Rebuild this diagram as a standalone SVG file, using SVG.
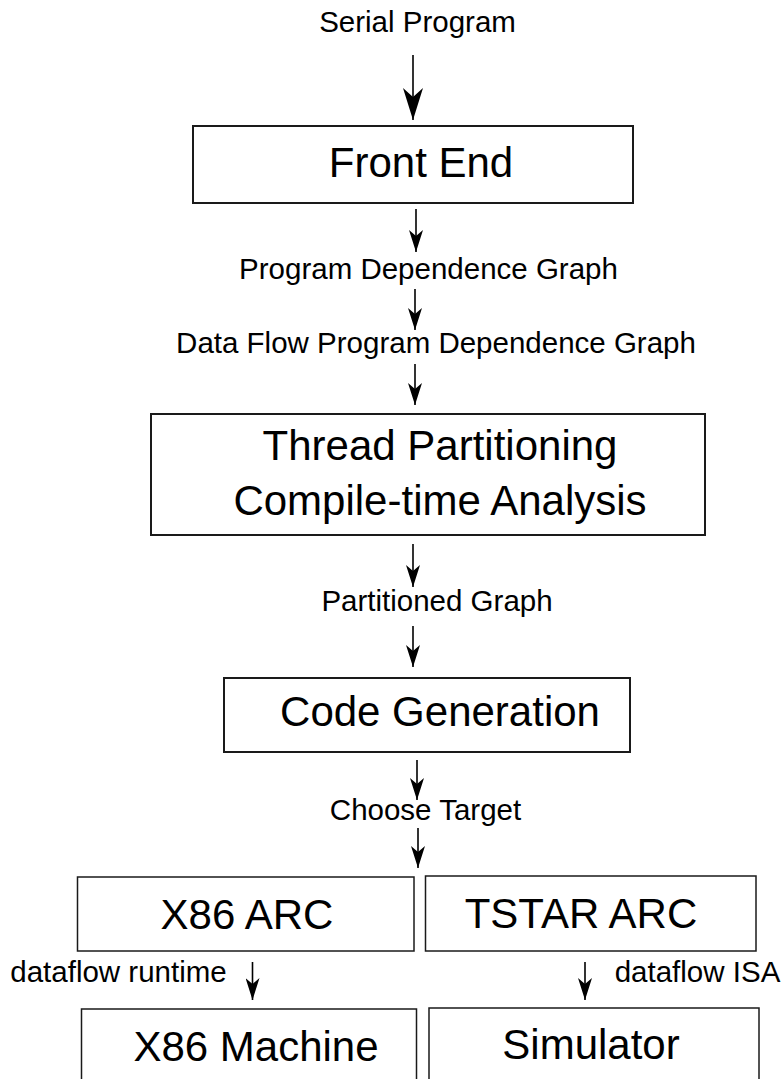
<svg xmlns="http://www.w3.org/2000/svg" width="782" height="1079" viewBox="0 0 782 1079">
<defs>
<style>
.box{fill:#fff;stroke:#1a1a1a;stroke-width:2}
.box2{fill:#fff;stroke:#1a1a1a;stroke-width:1.5}
.lbl{font-family:"Liberation Sans",Arial,sans-serif;font-size:29.5px;fill:#000;text-anchor:middle}
.big{font-family:"Liberation Sans",Arial,sans-serif;font-size:42px;fill:#000;text-anchor:middle}
.ln{stroke:#000;stroke-width:1.6;fill:none}
</style>
<marker id="ahBig" viewBox="0 0 20 32" refX="10" refY="32" markerWidth="20" markerHeight="32" markerUnits="userSpaceOnUse">
<path d="M0,0 L10,9 L20,0 L10,32 Z" fill="#000"/>
</marker>
<marker id="ah" viewBox="0 0 14 22" refX="7" refY="22" markerWidth="14" markerHeight="22" markerUnits="userSpaceOnUse">
<path d="M0,0 L7,6 L14,0 L7,22 Z" fill="#000"/>
</marker>
</defs>
<rect width="782" height="1079" fill="#fff"/>
<g id="connectors">
<line class="ln" x1="413" y1="55" x2="413" y2="120" marker-end="url(#ahBig)"/>
<line class="ln" x1="416" y1="209" x2="416" y2="252" marker-end="url(#ah)"/>
<line class="ln" x1="415" y1="289" x2="415" y2="330" marker-end="url(#ah)"/>
<line class="ln" x1="415" y1="364" x2="415" y2="405" marker-end="url(#ah)"/>
<line class="ln" x1="413" y1="544" x2="413" y2="587" marker-end="url(#ah)"/>
<line class="ln" x1="413" y1="626" x2="413" y2="667" marker-end="url(#ah)"/>
<line class="ln" x1="417" y1="760" x2="417" y2="800" marker-end="url(#ah)"/>
<line class="ln" x1="418" y1="828" x2="418" y2="868" marker-end="url(#ah)"/>
<line class="ln" x1="252.5" y1="962" x2="252.5" y2="1000" marker-end="url(#ah)"/>
<line class="ln" x1="585" y1="962" x2="585" y2="1000" marker-end="url(#ah)"/>
<text class="lbl" x="417.5" y="32">Serial Program</text>
<text class="lbl" x="428.5" y="279">Program Dependence Graph</text>
<text class="lbl" x="436" y="353">Data Flow Program Dependence Graph</text>
<text class="lbl" x="437" y="611">Partitioned Graph</text>
<text class="lbl" x="425.5" y="820">Choose Target</text>
<text class="lbl" x="118.5" y="982">dataflow runtime</text>
<text class="lbl" x="697.5" y="982">dataflow ISA</text>
</g>
<g id="front-end">
<rect class="box" x="193" y="126" width="440" height="77"/>
<text class="big" x="421" y="177">Front End</text>
</g>
<g id="thread-partitioning">
<rect class="box" x="151" y="414" width="554" height="121"/>
<text class="big" x="440" y="460">Thread Partitioning</text>
<text class="big" x="440" y="515">Compile-time Analysis</text>
</g>
<g id="code-generation">
<rect class="box" x="224" y="678" width="406" height="74"/>
<text class="big" x="440" y="726">Code Generation</text>
</g>
<g id="x86-arc">
<rect class="box2" x="77.5" y="877" width="336.5" height="74"/>
<text class="big" x="247" y="929">X86 ARC</text>
</g>
<g id="tstar-arc">
<rect class="box2" x="425.5" y="876" width="330.5" height="75"/>
<text class="big" x="581" y="928">TSTAR ARC</text>
</g>
<g id="x86-machine">
<rect class="box2" x="81.5" y="1009" width="335" height="80"/>
<text class="big" x="256" y="1061">X86 Machine</text>
</g>
<g id="simulator">
<rect class="box2" x="429" y="1008" width="330" height="81"/>
<text class="big" x="591" y="1059">Simulator</text>
</g>
</svg>
